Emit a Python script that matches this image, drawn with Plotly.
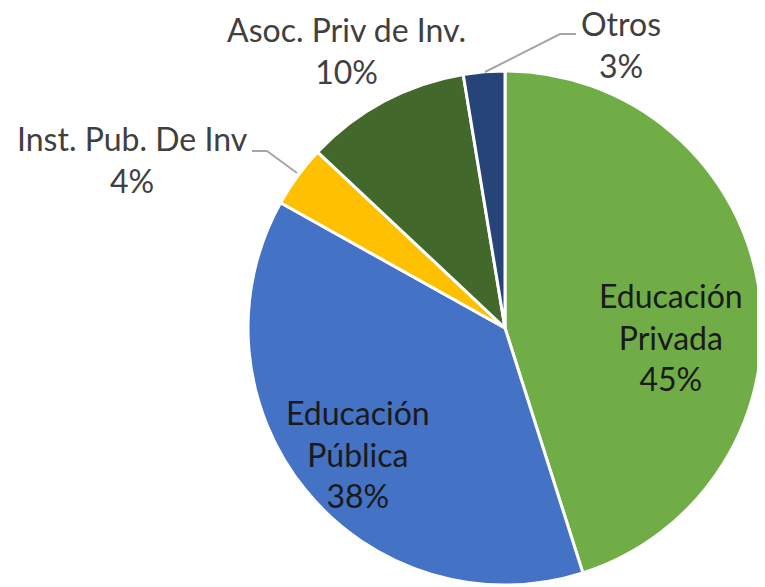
import plotly.graph_objects as go

labels = ["Educación Privada", "Educación Pública", "Inst. Pub. De Inv", "Asoc. Priv de Inv.", "Otros"]
label_lines = [["Educación", "Privada"], ["Educación", "Pública"], ["Inst. Pub. De Inv"], ["Asoc. Priv de Inv."], ["Otros"]]
values = [45.1, 38.0, 3.9, 10.4, 2.6]
colors = ["#70AD47", "#4472C4", "#FFC000", "#43682B", "#264478"]

W, H = 765, 587
OFF = 8  # page body margin

def px(x, y):
    return (x - OFF) / W, 1 - (y - OFF) / H

x0, y0 = px(248, 585)
x1, y1 = px(762, 71)
fig = go.Figure(go.Pie(
    labels=labels, values=values, sort=False, direction="clockwise", rotation=0,
    marker=dict(colors=colors, line=dict(color="white", width=3)),
    textinfo="none", hoverinfo="label+percent", showlegend=False,
    domain=dict(x=[x0, x1], y=[y0, y1]),
))

total = sum(values)
label_pos = [(671, 337), (358, 454), (132, 159), (346, 51), (621, 45)]
label_col = ["#1a1a1a", "#1a1a1a", "#404040", "#404040", "#404040"]
annotations = []
for lines, v, (x, y), c in zip(label_lines, values, label_pos, label_col):
    txt = "<br>".join(lines + [f"{round(v / total * 100):.0f}%"])
    ax, ay = px(x, y)
    annotations.append(dict(x=ax, y=ay, xref="paper", yref="paper", text=txt, showarrow=False,
                            xanchor="center", yanchor="middle",
                            font=dict(family="Lato", size=32, color=c)))

leaders = [[(252, 151), (267, 151), (297, 173)], [(576, 34), (560, 34), (485, 72)]]
shapes = []
for pts in leaders:
    path = "M " + " L ".join(f"{px(x, y)[0]} {px(x, y)[1]}" for x, y in pts)
    shapes.append(dict(type="path", path=path, xref="paper", yref="paper",
                       line=dict(color="#A6A6A6", width=2)))

fig.update_layout(width=W, height=H, margin=dict(l=0, r=0, t=0, b=0),
                  paper_bgcolor="white", plot_bgcolor="white",
                  annotations=annotations, shapes=shapes)
fig.write_html("out.html")
